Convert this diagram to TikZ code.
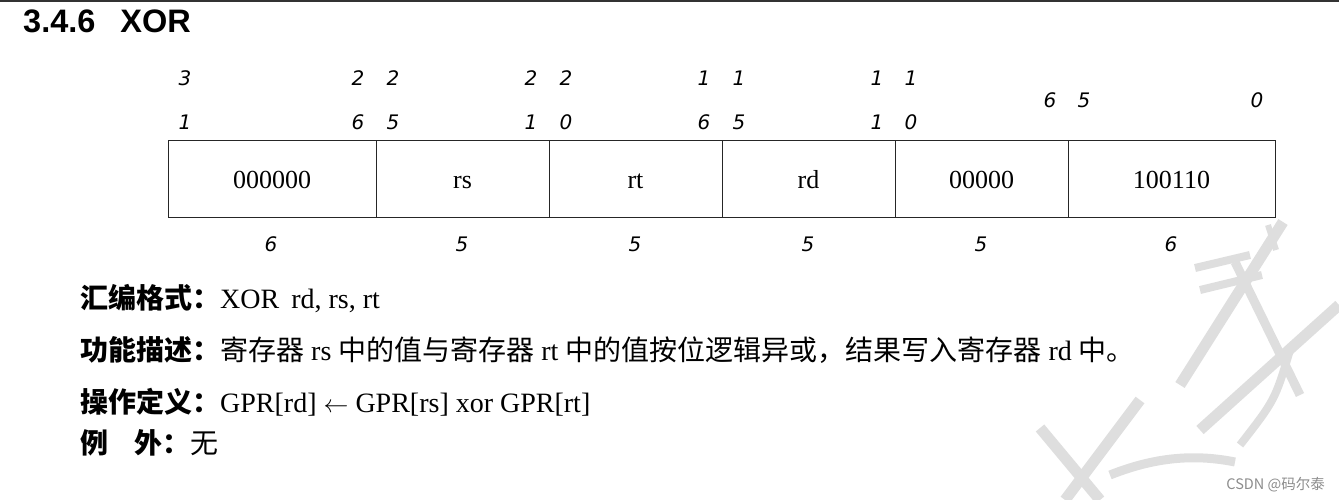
\documentclass[tikz,border=0pt]{standalone}
\usepackage{fontspec}
\setmainfont{Liberation Serif}
\newfontfamily\arialf{Liberation Sans}
\newfontfamily\cjk{Noto Sans CJK SC}
\newfontfamily\hand{DejaVu Sans}
\begin{document}
\begin{tikzpicture}[x=1pt,y=-1pt,
  cell/.style={draw=black!85,line width=1pt,minimum height=76pt,inner sep=0pt,text height=22pt,text depth=2pt,font=\fontsize{26}{26}\selectfont},
  bitnum/.style={font=\hand\itshape\fontsize{20}{20}\selectfont,inner sep=0pt},
  line/.style={anchor=base west,inner sep=0pt,font=\fontsize{28}{28}\selectfont},
  wm/.style={draw=black!13,line width=11pt,line cap=butt}]
\useasboundingbox (0,0) rectangle (1339,500);
% watermark strokes
\draw[wm] (1283,222) -- (1180,385);
\draw[wm,line width=6pt] (1268,225) -- (1276,250);
\draw[wm,line width=8pt] (1195,268) -- (1250,255);
\draw[wm,line width=8pt] (1200,290) -- (1262,275);
\draw[wm] (1339,305) -- (1200,430);
\draw[wm,line width=9pt] (1235,262) -- (1300,395);
\draw[wm,line width=8pt] (1290,350) .. controls (1275,400) .. (1240,445);
\draw[wm] (1040,428) -- (1100,500);
\draw[wm] (1140,400) -- (1065,500);
\draw[wm,line width=9pt] (1110,475) .. controls (1160,455) and (1200,455) .. (1235,462);
% top rule
\draw[black!80,line width=2pt] (0,1) -- (1339,1);
% title
\node[anchor=base west,inner sep=0pt,font=\arialf\bfseries\fontsize{32.5}{32}\selectfont] (title) at (23,33) {3.4.6\hspace{25pt}XOR};
% fields
\node[cell,minimum width=208pt] (f1) at (272,179) {000000};
\node[cell,minimum width=173pt] (f2) at (462.5,179) {rs};
\node[cell,minimum width=173pt] (f3) at (635.5,179) {rt};
\node[cell,minimum width=173pt] (f4) at (808.5,179) {rd};
\node[cell,minimum width=173pt] (f5) at (981.5,179) {00000};
\node[cell,minimum width=207pt] (f6) at (1171.5,179) {100110};
% bit positions
\node[bitnum] (b31a) at (185,78) {3};
\node[bitnum] (b31b) at (185,122) {1};
\node[bitnum] (b26a) at (358,78) {2};
\node[bitnum] (b26b) at (358,122) {6};
\node[bitnum] (b25a) at (393,78) {2};
\node[bitnum] (b25b) at (393,122) {5};
\node[bitnum] (b21a) at (531,78) {2};
\node[bitnum] (b21b) at (531,122) {1};
\node[bitnum] (b20a) at (566,78) {2};
\node[bitnum] (b20b) at (566,122) {0};
\node[bitnum] (b16a) at (704,78) {1};
\node[bitnum] (b16b) at (704,122) {6};
\node[bitnum] (b15a) at (739,78) {1};
\node[bitnum] (b15b) at (739,122) {5};
\node[bitnum] (b11a) at (877,78) {1};
\node[bitnum] (b11b) at (877,122) {1};
\node[bitnum] (b10a) at (911,78) {1};
\node[bitnum] (b10b) at (911,122) {0};
\node[bitnum] (b6) at (1050,100) {6};
\node[bitnum] (b5) at (1084,100) {5};
\node[bitnum] (b0) at (1257,100) {0};
% widths
\node[bitnum] (w1) at (271,244) {6};
\node[bitnum] (w2) at (462,244) {5};
\node[bitnum] (w3) at (635,244) {5};
\node[bitnum] (w4) at (808,244) {5};
\node[bitnum] (w5) at (981,244) {5};
\node[bitnum] (w6) at (1171,244) {6};
% description lines
\node[line] (l1) at (80,308) {{\cjk\bfseries 汇编格式：}XOR\hspace{12pt}rd, rs, rt};
\node[line] (l2) at (80,360) {{\cjk\bfseries 功能描述：}{\cjk 寄存器} rs {\cjk 中的值与寄存器} rt {\cjk 中的值按位逻辑异或，结果写入寄存器} rd {\cjk 中。}};
\node[line] (l3) at (80,412) {{\cjk\bfseries 操作定义：}GPR[rd] $\leftarrow$ GPR[rs] xor GPR[rt]};
\node[line] (l4) at (80,453) {{\cjk\bfseries 例\hspace{26pt}外：}{\cjk 无}};
% credit
\node[anchor=base east,inner sep=0pt,text=black!45,font=\cjk\fontsize{14.5}{14}\selectfont] (credit) at (1325,489) {CSDN @码尔泰};
\end{tikzpicture}
\end{document}
